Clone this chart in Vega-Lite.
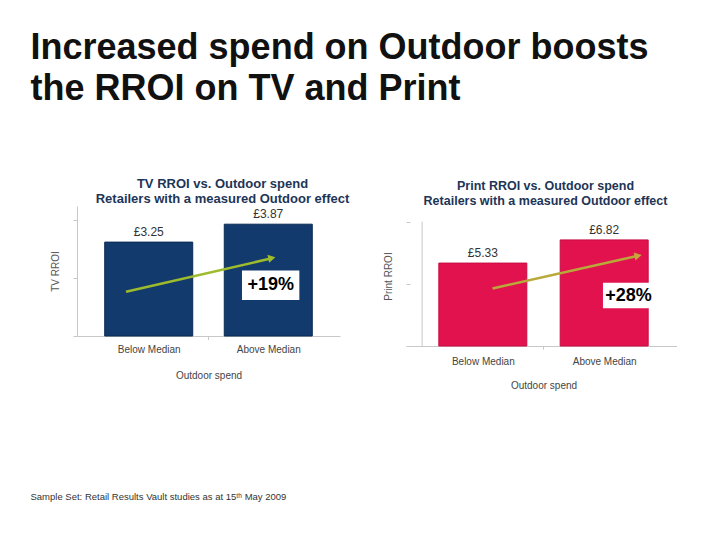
{
  "$schema": "https://vega.github.io/schema/vega-lite/v6.json",
  "background": "white",
  "padding": {"left": 30, "top": 30, "right": 0, "bottom": 0},
  "config": {
    "view": {"stroke": null},
    "locale": {"number": {"decimal": ".", "thousands": ",", "grouping": [3], "currency": ["£", ""]}},
    "font": "Liberation Sans",
    "axis": {"labelFont": "Liberation Sans", "titleFont": "Liberation Sans"}
  },
  "title": {
    "text": ["Increased spend on Outdoor boosts", "the RROI on TV and Print"],
    "anchor": "start",
    "font": "Liberation Sans",
    "fontWeight": "bold",
    "fontSize": 36,
    "lineHeight": 41,
    "color": "#111111",
    "offset": 70
  },
  "vconcat": [
    {
      "title": {
        "text": "Sample Set: Retail Results Vault studies as at 15ᵗʰ May 2009",
        "orient": "bottom",
        "anchor": "start",
        "dx": -20,
        "offset": 102,
        "fontSize": 9.5,
        "fontWeight": "normal",
        "color": "#333333",
        "font": "Liberation Sans"
      },
      "hconcat": [
        {
          "width": 263,
          "height": 130,
          "title": {
            "text": ["TV RROI vs. Outdoor spend", "Retailers with a measured Outdoor effect"],
            "fontSize": 13,
            "fontWeight": "bold",
            "color": "#1d3557",
            "lineHeight": 15,
            "offset": 0,
            "dx": 14
          },
          "data": {"values": [
            {"spend": "Below Median", "idx": 0, "rroi": 3.25},
            {"spend": "Above Median", "idx": 1, "rroi": 3.87}
          ]},
          "layer": [
            {
              "mark": {"type": "bar", "width": 88, "color": "#123a6c", "stroke": "#0b2a52", "strokeWidth": 1},
              "encoding": {
                "x": {"field": "idx", "type": "quantitative", "title": "Outdoor spend",
                  "scale": {"domain": [-0.5, 1.5]},
                  "axis": {"values": [0, 1], "labelExpr": "datum.value == 0 ? 'Below Median' : 'Above Median'",
                    "ticks": false, "grid": false, "domainColor": "#c8c8c8", "labelFontSize": 10, "labelColor": "#444444",
                    "labelPadding": 8, "titleFontSize": 10, "titleFontWeight": "normal", "titleColor": "#444444", "titlePadding": 16}},
                "y": {"field": "rroi", "type": "quantitative", "title": "TV RROI",
                  "scale": {"domain": [0, 4.5]},
                  "axis": {"values": [0, 0.5, 1, 1.5, 2, 2.5, 3, 3.5, 4, 4.5], "labels": false, "grid": false,
                    "tickSize": 4, "tickColor": "#c8c8c8", "domainColor": "#c8c8c8",
                    "titleFontSize": 10, "titleFontWeight": "normal", "titleColor": "#555555", "titlePadding": 12}}
              }
            },
            {
              "mark": {"type": "text", "baseline": "alphabetic", "dy": -6, "fontSize": 12, "color": "#333333"},
              "encoding": {
                "x": {"field": "idx", "type": "quantitative"},
                "y": {"field": "rroi", "type": "quantitative"},
                "text": {"field": "rroi", "type": "quantitative", "format": "$.2f"}
              }
            },
            {
              "data": {"values": [{"change": "+19%"}]},
              "layer": [
                {"mark": {"type": "rule", "color": "#c8c8c8"},
                 "encoding": {"x": {"datum": 0.5}, "y": {"datum": 0}, "y2": {"datum": -0.14}}},
                {"mark": {"type": "rule", "color": "#9dbb2c", "strokeWidth": 2.5},
                 "encoding": {"x": {"datum": -0.19}, "y": {"datum": 1.53}, "x2": {"datum": 1.02}, "y2": {"datum": 2.68}}},
                {"mark": {"type": "point", "shape": "triangle-right", "filled": true, "color": "#9dbb2c", "opacity": 1, "size": 70, "angle": -12},
                 "encoding": {"x": {"datum": 1.03}, "y": {"datum": 2.7}}},
                {"mark": {"type": "rect", "fill": "white"},
                 "encoding": {"x": {"datum": 0.78}, "x2": {"datum": 1.26}, "y": {"datum": 1.25}, "y2": {"datum": 2.27}}},
                {"mark": {"type": "text", "fontSize": 18, "fontWeight": "bold", "color": "#000000", "align": "center", "baseline": "middle"},
                 "encoding": {"x": {"datum": 1.02}, "y": {"datum": 1.76}, "text": {"field": "change"}}}
              ]
            }
          ]
        },
        {
          "width": 267,
          "height": 140,
          "title": {
            "text": ["Print RROI vs. Outdoor spend", "Retailers with a measured Outdoor effect"],
            "fontSize": 12.5,
            "fontWeight": "bold",
            "color": "#1d3557",
            "lineHeight": 15,
            "offset": -1,
            "dx": 2
          },
          "data": {"values": [
            {"spend": "Below Median", "idx": 0, "rroi": 5.33},
            {"spend": "Above Median", "idx": 1, "rroi": 6.82}
          ]},
          "layer": [
            {
              "mark": {"type": "bar", "width": 88, "color": "#e2124f", "stroke": "#c90c44", "strokeWidth": 1},
              "encoding": {
                "x": {"field": "idx", "type": "quantitative", "title": "Outdoor spend",
                  "scale": {"domain": [-0.5, 1.5]},
                  "axis": {"values": [0, 1], "labelExpr": "datum.value == 0 ? 'Below Median' : 'Above Median'",
                    "ticks": false, "grid": false, "domainColor": "#c8c8c8", "labelFontSize": 10, "labelColor": "#444444",
                    "labelPadding": 10, "titleFontSize": 10, "titleFontWeight": "normal", "titleColor": "#444444", "titlePadding": 14}},
                "y": {"field": "rroi", "type": "quantitative", "title": "Print RROI",
                  "scale": {"domain": [0, 8.47]},
                  "axis": {"values": [0, 1, 2, 3, 4, 5, 6, 7, 8], "labels": false, "grid": false, "domain": false,
                    "tickSize": 4, "tickColor": "#c8c8c8",
                    "titleFontSize": 10, "titleFontWeight": "normal", "titleColor": "#555555", "titlePadding": 12}}
              }
            },
            {
              "mark": {"type": "text", "baseline": "alphabetic", "dy": -6, "fontSize": 12, "color": "#333333"},
              "encoding": {
                "x": {"field": "idx", "type": "quantitative"},
                "y": {"field": "rroi", "type": "quantitative"},
                "text": {"field": "rroi", "type": "quantitative", "format": "$.2f"}
              }
            },
            {
              "data": {"values": [{"change": "+28%"}]},
              "layer": [
                {"mark": {"type": "rule", "color": "#c8c8c8"},
                 "encoding": {"x": {"datum": -0.5}, "y": {"datum": 0}, "y2": {"datum": 8}}},
                {"mark": {"type": "rule", "color": "#c8c8c8"},
                 "encoding": {"x": {"datum": 0.5}, "y": {"datum": 0}, "y2": {"datum": -0.24}}},
                {"mark": {"type": "rule", "color": "#b9a83a", "strokeWidth": 2.5},
                 "encoding": {"x": {"datum": 0.08}, "y": {"datum": 3.7}, "x2": {"datum": 1.27}, "y2": {"datum": 5.78}}},
                {"mark": {"type": "point", "shape": "triangle-right", "filled": true, "color": "#c9a53a", "opacity": 1, "size": 70, "angle": -12},
                 "encoding": {"x": {"datum": 1.28}, "y": {"datum": 5.8}}},
                {"mark": {"type": "rect", "fill": "white"},
                 "encoding": {"x": {"datum": 0.99}, "x2": {"datum": 1.41}, "y": {"datum": 2.42}, "y2": {"datum": 4.06}}},
                {"mark": {"type": "text", "fontSize": 18, "fontWeight": "bold", "color": "#000000", "align": "center", "baseline": "middle"},
                 "encoding": {"x": {"datum": 1.2}, "y": {"datum": 3.24}, "text": {"field": "change"}}}
              ]
            }
          ]
        }
      ],
      "spacing": 33
    }
  ]
}
